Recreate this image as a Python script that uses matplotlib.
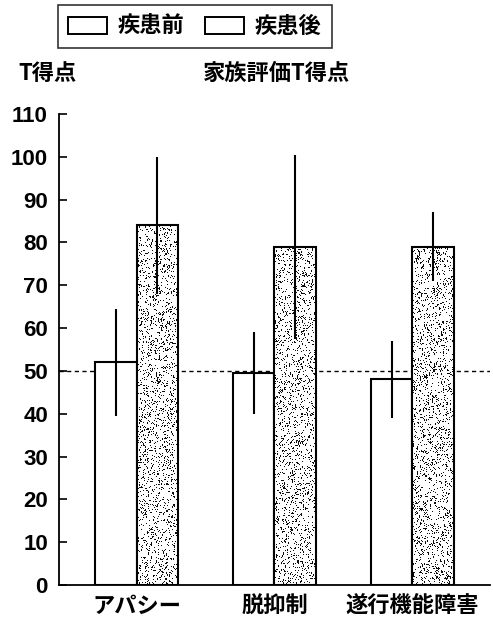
import numpy as np
import matplotlib
matplotlib.use("Agg")
import matplotlib.pyplot as plt
from matplotlib.patches import Patch

plt.rcParams['font.family'] = ['Noto Sans CJK JP', 'DejaVu Sans']

# Family-rated T scores, before and after illness
categories = ["アパシー", "脱抑制", "遂行機能障害"]
before_mean = [52, 49.5, 48]
before_sd = [12.5, 9.5, 9]
after_mean = [84, 79, 79]
after_sd = [16, 21.5, 8]
y_ticks = list(range(0, 111, 10))
series_labels = ["疾患前", "疾患後"]
reference_line = 50

WEIGHT = "bold"


def stipple_texture(w, h, rng):
    """Grainy print-like dot pattern used to fill the 'after' bars."""
    base = rng.random((h, w))
    streak = rng.random((h // 3 + 1, w)).repeat(3, axis=0)[:h]
    dark = (base < 0.12) | ((streak < 0.08) & (base < 0.5))
    return np.where(dark, 0.05, 1.0)


fig = plt.figure(figsize=(4.93, 6.19), dpi=100)
ax = fig.add_axes([59 / 493, 1 - 585 / 619, (490 - 59) / 493, (585 - 114) / 619])

x = np.arange(len(categories))
width = 0.30

ax.axhline(reference_line, color="black", lw=1.0, ls=(0, (3, 2.5)), zorder=1)

ax.bar(x - width / 2, before_mean, width, color="white",
       edgecolor="black", lw=1.5, zorder=2)
after_bars = ax.bar(x + width / 2, after_mean, width, facecolor="none",
                    edgecolor="black", lw=1.5, zorder=3)

# fill the 'after' bars with a stipple pattern clipped to each bar
rng = np.random.default_rng(7)
for bar in after_bars:
    bx, bw, bh = bar.get_x(), bar.get_width(), bar.get_height()
    tex = stipple_texture(44, int(bh * 4.3), rng)
    im = ax.imshow(tex, extent=(bx, bx + bw, 0, bh), aspect="auto",
                   cmap="gray", vmin=0, vmax=1, interpolation="nearest", zorder=2)
    im.set_clip_path(bar)

ax.errorbar(x - width / 2, before_mean, yerr=before_sd, fmt="none",
            ecolor="black", elinewidth=1.5, capsize=0, zorder=4)
ax.errorbar(x + width / 2, after_mean, yerr=after_sd, fmt="none",
            ecolor="black", elinewidth=1.5, capsize=0, zorder=4)

ax.set_xlim(-0.563, 2.563)
ax.set_ylim(0, 110)
ax.set_yticks(y_ticks)
ax.set_xticks(x)
ax.set_xticklabels(categories, fontsize=16, fontweight=WEIGHT)
ax.tick_params(axis="y", direction="in", length=6, width=1.2, pad=8)
ax.tick_params(axis="x", length=0, pad=7)
for lbl in ax.get_yticklabels():
    lbl.set_family(["Liberation Sans", "DejaVu Sans"])
    lbl.set_fontsize(16)
    lbl.set_fontweight(WEIGHT)

for side in ("top", "right"):
    ax.spines[side].set_visible(False)
for side in ("left", "bottom"):
    ax.spines[side].set_linewidth(1.3)

fig.text(18 / 493, 1 - 74 / 619, "T得点", fontsize=16, fontweight=WEIGHT,
         va="center", ha="left")
fig.text(203 / 493, 1 - 73 / 619, "家族評価T得点", fontsize=16, fontweight=WEIGHT,
         va="center", ha="left")

handles = [Patch(facecolor="white", edgecolor="black", lw=1.4),
           Patch(facecolor="white", edgecolor="black", lw=1.4)]
leg = fig.legend(handles, series_labels, loc="upper left",
                 bbox_to_anchor=(58 / 493, 1 - 5 / 619), borderaxespad=0,
                 ncol=2, frameon=True, fancybox=False,
                 prop={"size": 16, "weight": WEIGHT},
                 handlelength=1.75, handleheight=0.8, handletextpad=0.5,
                 columnspacing=0.9, borderpad=0.45)
leg.get_frame().set_edgecolor("black")
leg.get_frame().set_linewidth(1.2)

fig.savefig("out.png", dpi=100)
